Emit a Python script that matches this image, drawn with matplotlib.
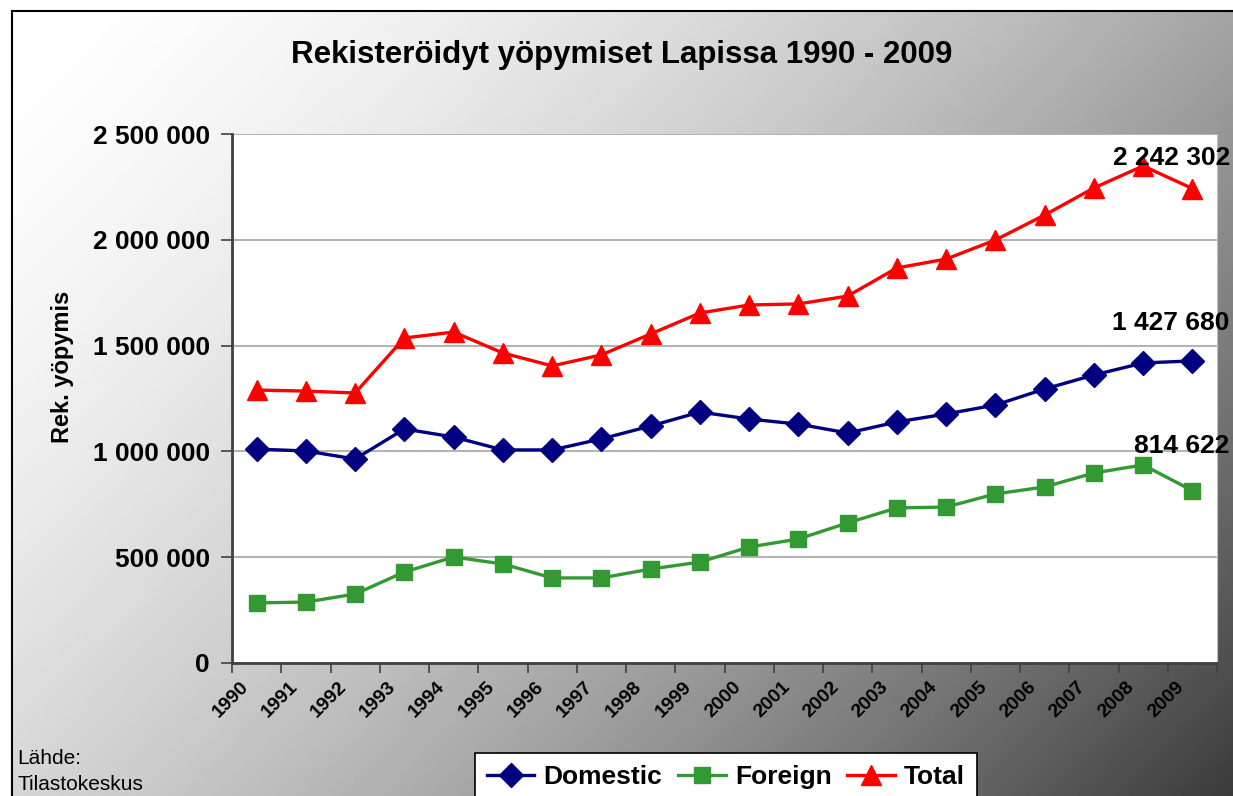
import numpy as np
import matplotlib
matplotlib.use('Agg')
import matplotlib.pyplot as plt
from matplotlib.ticker import FuncFormatter, MultipleLocator
from matplotlib.transforms import ScaledTranslation

# Data
years = [str(y) for y in range(1990, 2010)]
domestic = [1011000, 1002000, 964000, 1106000, 1068000, 1007000, 1007000, 1059000,
            1120000, 1186000, 1153000, 1129000, 1087000, 1139000, 1177000, 1219000,
            1295000, 1361000, 1418000, 1427680]
foreign = [284000, 288000, 326000, 430000, 501000, 468000, 402000, 402000,
           444000, 477000, 548000, 586000, 662000, 733000, 737000, 799000,
           832000, 898000, 936000, 814622]
total = [1290000, 1285000, 1276000, 1536000, 1564000, 1465000, 1404000, 1456000,
         1555000, 1654000, 1692000, 1697000, 1734000, 1867000, 1909000, 1999000,
         2117000, 2245000, 2349000, 2242302]

plt.rcParams['font.family'] = ['Liberation Sans', 'DejaVu Sans']

W, H = 1233, 796
fig = plt.figure(figsize=(W / 100, H / 100), dpi=100)

# gradient background inside the frame
bg = fig.add_axes([12 / W, 0, 1 - 12 / W, 1 - 11 / H], zorder=-1)
xn = np.linspace(0, 1, 400)[None, :]
yn = np.linspace(0, 1, 260)[:, None]
s = 0.62 * xn + 0.38 * yn
g = 1 - 0.77 * s ** 1.6
bg.imshow(g, cmap='gray', vmin=0, vmax=1, aspect='auto', extent=[0, 1, 1, 0])
bg.set_xlim(0, 1)
bg.set_ylim(1, 0)
bg.set_xticks([])
bg.set_yticks([])
for side in ['right', 'bottom']:
    bg.spines[side].set_visible(False)
bg.spines['left'].set_linewidth(1.5)
bg.spines['top'].set_linewidth(1.5)

ax = fig.add_axes([232 / W, (H - 663) / H, (1217 - 232) / W, (663 - 134) / H])
ax.set_facecolor('white')
x = np.arange(len(years))

ax.plot(x, domestic, color='#000080', lw=2.4, marker='D', ms=12, label='Domestic', zorder=3)
ax.plot(x, foreign, color='#339933', lw=2.4, marker='s', ms=11.5, label='Foreign', zorder=3)
ax.plot(x, total, color='#ff0000', lw=2.4, marker='^', ms=14, label='Total', zorder=3)

ax.set_xlim(-0.5, len(years) - 0.5)
ax.set_ylim(0, 2500000)
ax.yaxis.set_major_locator(MultipleLocator(500000))
ax.yaxis.set_major_formatter(FuncFormatter(lambda v, p: f'{int(v):,}'.replace(',', ' ')))
ax.grid(axis='y', color='#a6a6a6', lw=1.2)
ax.set_axisbelow(True)

ax.set_xticks(x)
ax.set_xticklabels(years, rotation=45, ha='right', rotation_mode='anchor',
                   fontsize=14, fontweight='bold')
ax.tick_params(axis='x', which='major', length=0, pad=11)
shift = ScaledTranslation(-17 / 100, 0, fig.dpi_scale_trans)
for lab in ax.get_xticklabels():
    lab.set_transform(lab.get_transform() + shift)
ax.set_xticks(np.arange(-0.5, len(years)), minor=True)
ax.tick_params(axis='x', which='minor', length=7, width=1.2, color='#404040')
ax.tick_params(axis='y', length=8, width=1.2, color='#404040', pad=8)
for lab in ax.get_yticklabels():
    lab.set_fontsize(19)
    lab.set_fontweight('bold')

ax.spines['top'].set_visible(False)
ax.spines['right'].set_color('#c0c0c0')
ax.spines['left'].set_color('#404040')
ax.spines['left'].set_linewidth(2)
ax.spines['bottom'].set_color('#404040')
ax.spines['bottom'].set_linewidth(2)

# end labels
last = len(years) - 1
for vals, dy in [(total, 22), (domestic, 27), (foreign, 32)]:
    ax.annotate(f'{vals[-1]:,}'.replace(',', ' '), xy=(last, vals[-1]),
                xytext=(27, dy), textcoords='offset points', ha='right', va='center',
                fontsize=19, fontweight='bold', annotation_clip=False)

fig.text(622 / W, 1 - 55 / H, 'Rekisteröidyt yöpymiset Lapissa 1990 - 2009',
         ha='center', va='center', fontsize=22.5, fontweight='bold')
fig.text(62 / W, 1 - 367 / H, 'Rek. yöpymis', rotation=90, ha='center', va='center',
         fontsize=17, fontweight='bold')
fig.text(17 / W, 1 - 758 / H, 'Lähde:', ha='left', va='center', fontsize=15)
fig.text(17 / W, 1 - 785 / H, 'Tilastokeskus', ha='left', va='center', fontsize=15)

leg = ax.legend(loc='center', bbox_to_anchor=(726 / W, 1 - 777 / H),
                bbox_transform=fig.transFigure, ncol=3, frameon=True, fancybox=False,
                edgecolor='black', framealpha=1, prop={'size': 19, 'weight': 'bold'},
                handlelength=1.8, columnspacing=0.6, handletextpad=0.35,
                borderpad=0.45, borderaxespad=0)
leg.get_frame().set_linewidth(1.2)

fig.savefig('out.png', dpi=100)
